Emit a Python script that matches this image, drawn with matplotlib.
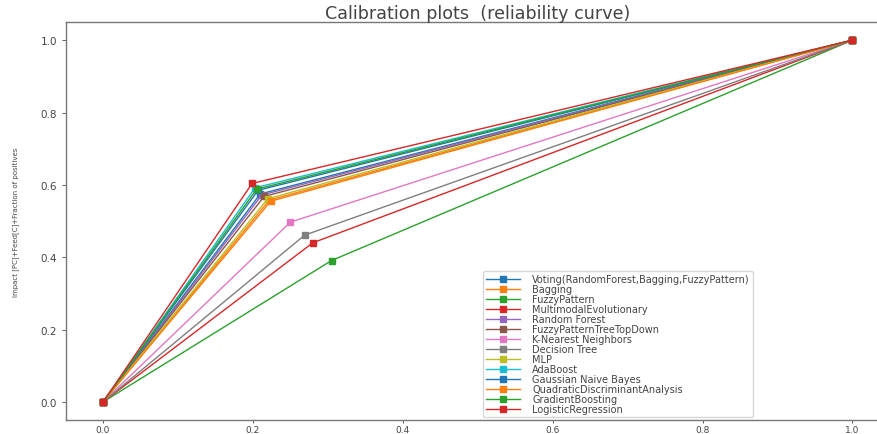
import matplotlib
matplotlib.use("Agg")
import matplotlib.pyplot as plt

# Classifier names in plotting order
models = [
    "Voting(RandomForest,Bagging,FuzzyPattern)",
    "Bagging",
    "FuzzyPattern",
    "MultimodalEvolutionary",
    "Random Forest",
    "FuzzyPatternTreeTopDown",
    "K-Nearest Neighbors",
    "Decision Tree",
    "MLP",
    "AdaBoost",
    "Gaussian Naive Bayes",
    "QuadraticDiscriminantAnalysis",
    "GradientBoosting",
    "LogisticRegression",
]

# Mean predicted value at the middle bin for each classifier
mean_pred_mid = [0.210, 0.222, 0.305, 0.280, 0.212, 0.215, 0.250,
                 0.269, 0.220, 0.203, 0.207, 0.224, 0.205, 0.199]
# Fraction of positives at the middle bin for each classifier
frac_pos_mid = [0.575, 0.558, 0.391, 0.440, 0.572, 0.568, 0.497,
                0.461, 0.562, 0.592, 0.585, 0.555, 0.588, 0.604]

# Outer bins shared by all classifiers
low_bin = (0.0, 0.0)
high_bin = (1.0, 1.0)

fig = plt.figure(figsize=(8.77, 4.35), dpi=100)
ax = fig.add_axes([0.0747, 0.032, 0.94, 0.915])

for name, mx, my in zip(models, mean_pred_mid, frac_pos_mid):
    xs = [low_bin[0], mx, high_bin[0]]
    ys = [low_bin[1], my, high_bin[1]]
    ax.plot(xs, ys, "s-", label=name, linewidth=1.0, markersize=4.5)

ticks = [0.0, 0.2, 0.4, 0.6, 0.8, 1.0]
ax.set_xticks(ticks)
ax.set_yticks(ticks)
ax.set_xticklabels([f"{t:.1f}" for t in ticks])
ax.set_yticklabels([f"{t:.1f}" for t in ticks])
ax.tick_params(axis="x", labelsize=6.5, length=2.5, width=0.6, colors="#444444", pad=1)
ax.tick_params(axis="y", labelsize=7.5, length=3, width=0.6, colors="#444444", pad=3)
for sp in ax.spines.values():
    sp.set_color("#777777")
    sp.set_linewidth(1.0)

ax.set_ylabel("Impact [PC]+Feed[C]+Fraction of positives", fontsize=5, color="#444444")
ax.yaxis.set_label_coords(-0.056, 0.5)
ax.set_title("Calibration plots  (reliability curve)", fontsize=12.6, color="#444444", pad=1.5)

leg = ax.legend(loc="lower left", bbox_to_anchor=(0.506, 0.008), borderaxespad=0,
                fontsize=7, labelspacing=0.0, handlelength=3.5,
                handletextpad=1.3, borderpad=0.3)
for t in leg.get_texts():
    t.set_color("#444444")

fig.savefig("out.png", dpi=100)
